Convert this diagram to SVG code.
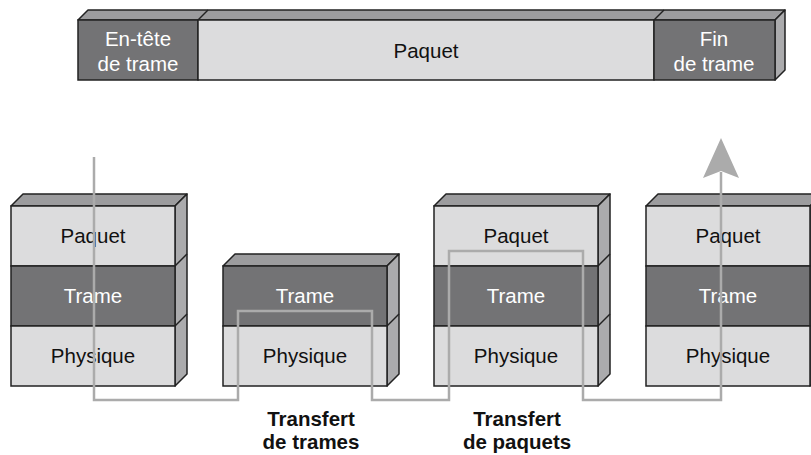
<svg xmlns="http://www.w3.org/2000/svg" width="811" height="455" viewBox="0 0 811 455">
<style>
.lt{fill:#dcdcdd;stroke:#222;stroke-width:1.5}
.dk{fill:#737375;stroke:#222;stroke-width:1.5}
.tp{fill:#9c9c9e;stroke:#222;stroke-width:1.5;stroke-linejoin:round}
.sd{fill:#ababad;stroke:#222;stroke-width:1.5;stroke-linejoin:round}
.t{font-family:"Liberation Sans",Arial,sans-serif;font-size:20.5px;text-anchor:middle}
.b{fill:#111}
.w{fill:#fff}
.lbl{font-family:"Liberation Sans",Arial,sans-serif;font-size:20.5px;font-weight:bold;text-anchor:middle;fill:#111}
.conn{fill:none;stroke:#ababab;stroke-width:2.5}
</style>
<rect width="811" height="455" fill="#fff"/>
<g id="trame-bar">
<polygon class="tp" points="78,20 88,10 785,10 775,20"/>
<line x1="198" y1="20" x2="208" y2="10" stroke="#222" stroke-width="1.5"/>
<line x1="654" y1="20" x2="664" y2="10" stroke="#222" stroke-width="1.5"/>
<polygon class="sd" points="775,20 785,10 785,70 775,80"/>
<rect class="dk" x="78" y="20" width="120" height="60"/>
<rect class="lt" x="198" y="20" width="456" height="60"/>
<rect class="dk" x="654" y="20" width="121" height="60"/>
<text class="t w" x="138" y="46">En-tête</text>
<text class="t w" x="138" y="71">de trame</text>
<text class="t b" x="426" y="58">Paquet</text>
<text class="t w" x="714" y="46">Fin</text>
<text class="t w" x="714" y="71">de trame</text>
</g>
<g id="stack1">
<polygon class="tp" points="11,206 23,194 187,194 175,206"/>
<polygon class="sd" points="175,206 187,194 187,374 175,386"/>
<line x1="175" y1="266" x2="187" y2="254" stroke="#222" stroke-width="1.5"/>
<line x1="175" y1="326" x2="187" y2="314" stroke="#222" stroke-width="1.5"/>
<rect class="lt" x="11" y="206" width="164" height="60"/>
<rect class="dk" x="11" y="266" width="164" height="60"/>
<rect class="lt" x="11" y="326" width="164" height="60"/>
<text class="t b" x="93" y="243">Paquet</text>
<text class="t w" x="93" y="303">Trame</text>
<text class="t b" x="93" y="363">Physique</text>
</g>
<g id="stack2">
<polygon class="tp" points="223,266 235,254 399,254 387,266"/>
<polygon class="sd" points="387,266 399,254 399,374 387,386"/>
<line x1="387" y1="326" x2="399" y2="314" stroke="#222" stroke-width="1.5"/>
<rect class="dk" x="223" y="266" width="164" height="60"/>
<rect class="lt" x="223" y="326" width="164" height="60"/>
<text class="t w" x="305" y="303">Trame</text>
<text class="t b" x="305" y="363">Physique</text>
</g>
<g id="stack3">
<polygon class="tp" points="434,206 446,194 610,194 598,206"/>
<polygon class="sd" points="598,206 610,194 610,374 598,386"/>
<line x1="598" y1="266" x2="610" y2="254" stroke="#222" stroke-width="1.5"/>
<line x1="598" y1="326" x2="610" y2="314" stroke="#222" stroke-width="1.5"/>
<rect class="lt" x="434" y="206" width="164" height="60"/>
<rect class="dk" x="434" y="266" width="164" height="60"/>
<rect class="lt" x="434" y="326" width="164" height="60"/>
<text class="t b" x="516" y="243">Paquet</text>
<text class="t w" x="516" y="303">Trame</text>
<text class="t b" x="516" y="363">Physique</text>
</g>
<g id="stack4">
<polygon class="tp" points="646,206 658,194 822,194 810,206"/>
<polygon class="sd" points="810,206 822,194 822,374 810,386"/>
<rect class="lt" x="646" y="206" width="164" height="60"/>
<rect class="dk" x="646" y="266" width="164" height="60"/>
<rect class="lt" x="646" y="326" width="164" height="60"/>
<text class="t b" x="728" y="243">Paquet</text>
<text class="t w" x="728" y="303">Trame</text>
<text class="t b" x="728" y="363">Physique</text>
</g>
<g id="connectors">
<path class="conn" d="M94,157 V400 H238 V311 H372 V400 H449 V251 H583 V400 H721 V172"/>
<polygon points="721,138 739,178 721,171 703,178" fill="#ababab"/>
</g>
<g id="labels">
<text class="lbl" x="311" y="426">Transfert</text>
<text class="lbl" x="311" y="449">de trames</text>
<text class="lbl" x="517" y="426">Transfert</text>
<text class="lbl" x="517" y="449">de paquets</text>
</g>
</svg>
